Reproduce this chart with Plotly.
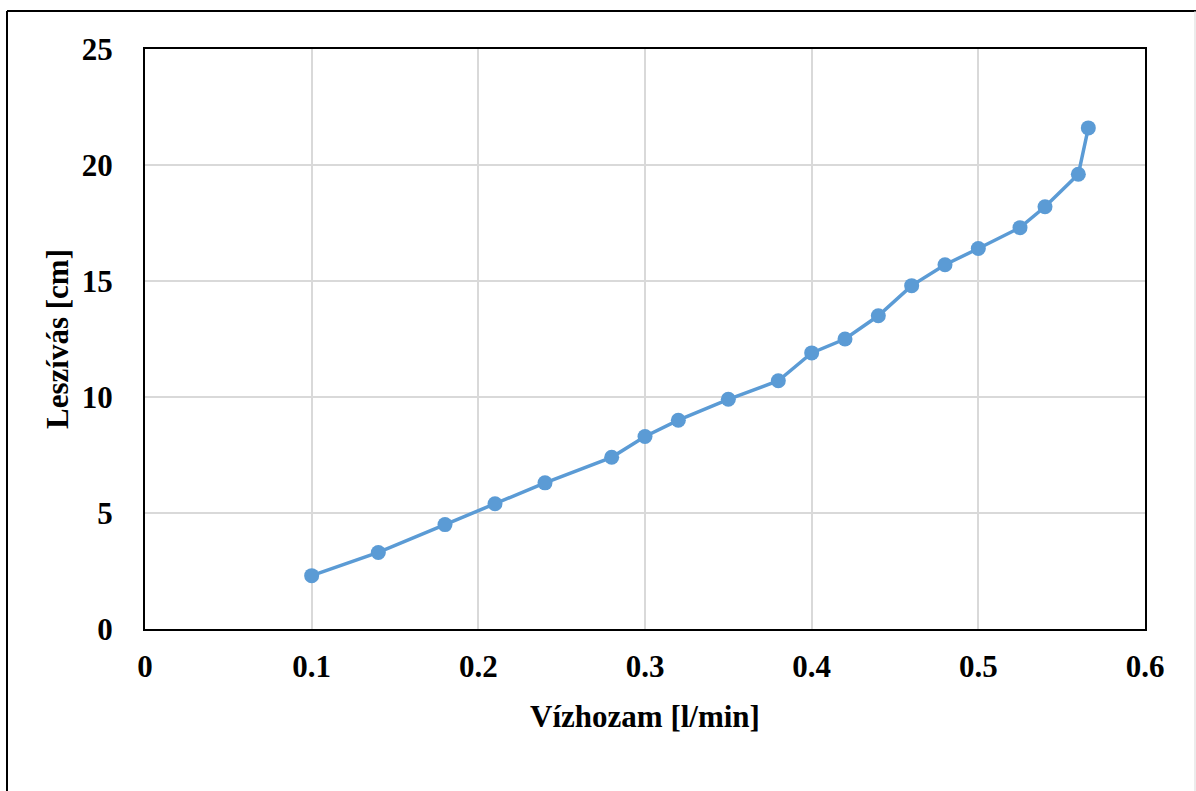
import plotly.graph_objects as go

flow = [0.10, 0.14, 0.18, 0.21, 0.24, 0.28, 0.30, 0.32, 0.35, 0.38, 0.40, 0.42, 0.44, 0.46, 0.48, 0.50, 0.525, 0.54, 0.56, 0.566]
drawdown = [2.3, 3.3, 4.5, 5.4, 6.3, 7.4, 8.3, 9.0, 9.9, 10.7, 11.9, 12.5, 13.5, 14.8, 15.7, 16.4, 17.3, 18.2, 19.6, 21.6]
x_ticks = [0, 0.1, 0.2, 0.3, 0.4, 0.5, 0.6]
x_labels = ["0", "0.1", "0.2", "0.3", "0.4", "0.5", "0.6"]
y_ticks = [0, 5, 10, 15, 20, 25]

W, H = 1196, 791
L, T = 145, 49
R = W - 1145
B = H - 629
pw, ph = W - L - R, H - T - B

def px_x(p):
    return (p - L) / pw

def px_y(p):
    return 1 - (p - T) / ph

font = "Liberation Serif, Times New Roman, serif"
FS = 31

fig = go.Figure(go.Scatter(
    x=flow, y=drawdown, mode="lines+markers",
    line=dict(color="#5B9BD5", width=3.5),
    marker=dict(color="#5B9BD5", size=15),
    showlegend=False,
))

fig.update_layout(
    width=W, height=H,
    margin=dict(l=L, r=R, t=T, b=B),
    paper_bgcolor="white", plot_bgcolor="white",
    font=dict(family=font, size=FS, color="black"),
    xaxis=dict(
        range=[0, 0.6], tickvals=x_ticks, ticktext=x_labels,
        showgrid=True, gridcolor="#D9D9D9", gridwidth=2,
        showline=True, linecolor="black", linewidth=2, mirror=True,
        zeroline=False, ticks="", ticklabelstandoff=9,
        tickfont=dict(family=font, size=FS, color="black", weight="bold"),
        title=dict(text="<b>Vízhozam [l/min]</b>", standoff=22,
                   font=dict(family=font, size=FS, color="black")),
    ),
    yaxis=dict(
        range=[0, 25], tickvals=y_ticks,
        showgrid=True, gridcolor="#D9D9D9", gridwidth=2,
        showline=True, linecolor="black", linewidth=2, mirror=True,
        zeroline=False, ticks="", ticklabelstandoff=24,
        tickfont=dict(family=font, size=FS, color="black", weight="bold"),
        title=dict(text="<b>Leszívás [cm]</b>", standoff=4,
                   font=dict(family=font, size=FS, color="black")),
    ),
    shapes=[
        dict(type="line", xref="paper", yref="paper", x0=px_x(7), x1=px_x(7), y0=px_y(11), y1=px_y(800),
             line=dict(color="black", width=2)),
        dict(type="line", xref="paper", yref="paper", x0=px_x(7), x1=px_x(1200), y0=px_y(11), y1=px_y(11),
             line=dict(color="black", width=2)),
        dict(type="line", xref="paper", yref="paper", x0=px_x(1195), x1=px_x(1195), y0=px_y(11), y1=px_y(800),
             line=dict(color="#D9D9D9", width=1)),
    ],
)

fig.write_html("out.html", config={"displayModeBar": False},
               post_script="document.body.style.margin='0';document.body.style.overflow='hidden';")
